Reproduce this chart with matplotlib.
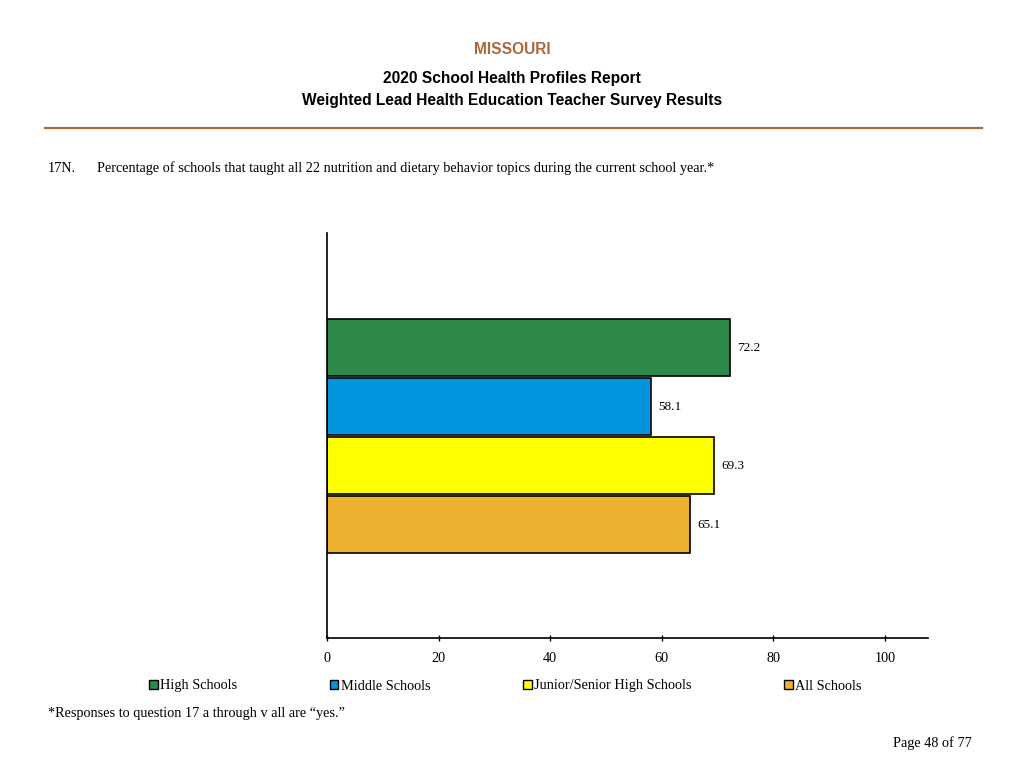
import matplotlib.pyplot as plt
from matplotlib.patches import Patch

# data
groups = ["High Schools", "Middle Schools", "Junior/Senior High Schools", "All Schools"]
values = [72.2, 58.1, 69.3, 65.1]
colors = ["#2E8A4B", "#0095DC", "#FFFF00", "#EEB02F"]
xticks = [0, 20, 40, 60, 80, 100]

brown = "#A8683A"
serif = "Liberation Serif"
sans = "Liberation Sans"

fig = plt.figure(figsize=(10.24, 7.68), dpi=100)

# header
fig.text(0.5, 1 - 49 / 768, "MISSOURI", ha="center", va="center",
         fontsize=11.2, fontweight="bold", color=brown, family=sans)
fig.text(0.5, 1 - 79 / 768, "2020 School Health Profiles Report", ha="center", va="center",
         fontsize=11.2, fontweight="bold", family=sans)
fig.text(0.5, 1 - 100 / 768, "Weighted Lead Health Education Teacher Survey Results",
         ha="center", va="center", fontsize=11.2, fontweight="bold", family=sans)
fig.add_artist(plt.Line2D([45 / 1024, 982 / 1024], [1 - 128 / 768] * 2,
                          color=brown, lw=1.6))

# question
fig.text(48 / 1024, 1 - 168 / 768, "17N.", va="center", fontsize=10.3, family=serif)
fig.text(97 / 1024, 1 - 168 / 768,
         "Percentage of schools that taught all 22 nutrition and dietary behavior topics during the current school year.*",
         va="center", fontsize=10.3, family=serif)

# chart
ax = fig.add_axes([327 / 1024, 1 - 638 / 768, 601 / 1024, 405 / 768])
pos = list(range(len(values)))
ax.barh(pos, values, height=0.966, color=colors, edgecolor="black", linewidth=1.2)
for p, v in zip(pos, values):
    ax.text(v + 1.3, p, f"{v:.1f}", va="center", fontsize=9.5, family=serif)

ax.set_ylim(4.92, -1.94)
ax.set_xlim(0, 107.7)
ax.set_xticks(xticks)
ax.set_xticklabels([str(t) for t in xticks], family=serif, fontsize=10.3)
ax.tick_params(axis="x", length=4, width=1, direction="inout", pad=8)
ax.set_yticks([])
for s in ["top", "right"]:
    ax.spines[s].set_visible(False)
ax.spines["left"].set_linewidth(1.2)
ax.spines["bottom"].set_linewidth(1.2)

# legend
handles = [Patch(facecolor=c, edgecolor="black", linewidth=1) for c in colors]
fig.legend(handles, groups, loc="center left", bbox_to_anchor=(149 / 1024, 1 - 686 / 768),
           ncol=4, frameon=False, prop={"family": serif, "size": 10.3},
           handlelength=0.6, handleheight=0.6, handletextpad=0.15, columnspacing=6.5,
           borderaxespad=0, borderpad=0)

# footnote
fig.text(48 / 1024, 1 - 713 / 768, "*Responses to question 17 a through v all are \u201cyes.\u201d",
         va="center", fontsize=10.3, family=serif)
fig.text(972 / 1024, 1 - 743 / 768, "Page 48 of 77", ha="right", va="center",
         fontsize=10.3, family=serif)

fig.savefig("out.png", dpi=100)
